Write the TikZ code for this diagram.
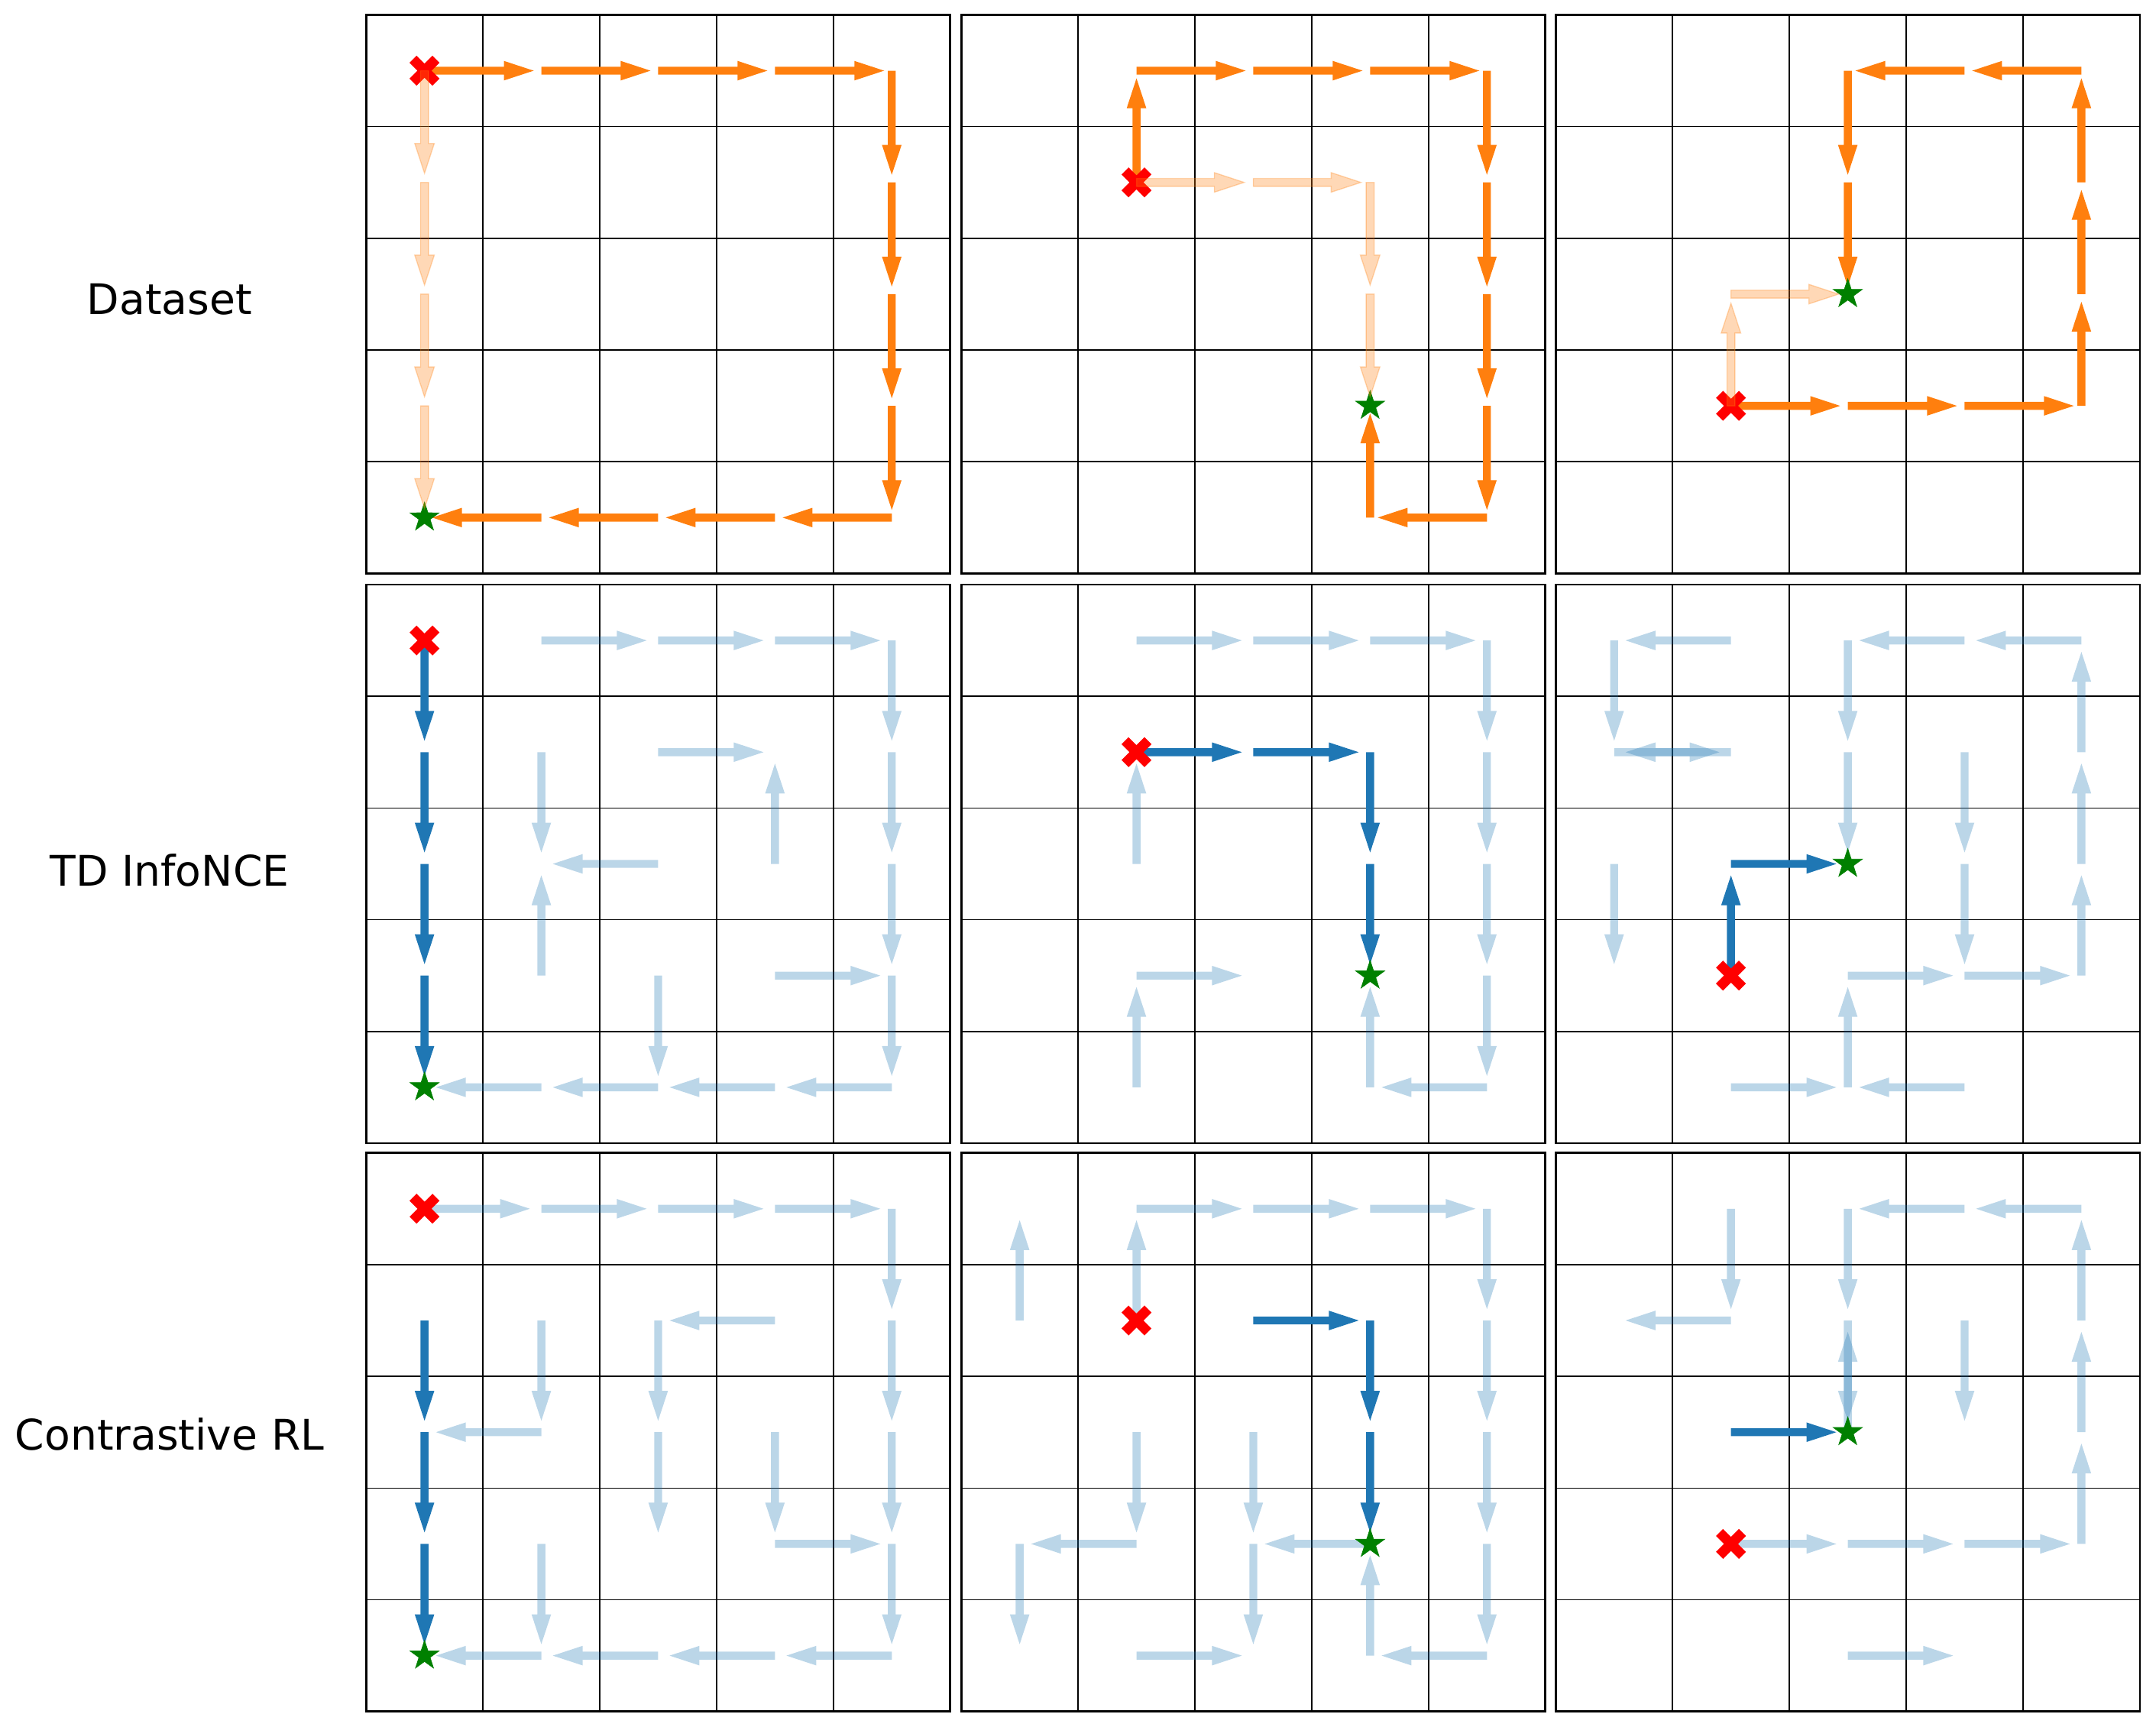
\documentclass[tikz,border=0pt]{standalone}
\usepackage{fontspec}
\setmainfont{DejaVu Sans}
\usetikzlibrary{shapes.geometric, shapes.misc}

\definecolor{tabblue}{HTML}{1F77B4}
\definecolor{taborange}{HTML}{FF7F0E}
\definecolor{goalgreen}{HTML}{008000}

% cell size and arrow shape (cm)
\newcommand\cellw{1.529}
\newcommand\cellh{1.462}
\newcommand\shaftw{0.052}
\newcommand\headw{0.128}
\newcommand\headl{0.39}

% one arrow: style, gap before next cell, column, row, angle
\newcommand\qv[5]{%
  \pgfmathsetmacro\qlen{\cellw*abs(cos(#5))+\cellh*abs(sin(#5))-#2}%
  \fill[#1, shift={({(#3+.5)*\cellw},{-(#4+.5)*\cellh})}, rotate=#5]
    (0,-\shaftw) -- ({\qlen-\headl},-\shaftw) -- ({\qlen-\headl},-\headw) -- (\qlen,0)
    -- ({\qlen-\headl},\headw) -- ({\qlen-\headl},\shaftw) -- (0,\shaftw) -- cycle;}
\newcommand\trail[3]{\foreach \cx/\cy/\ang in {#3} {\qv{#1}{#2}{\cx}{\cy}{\ang}}}
% 5x5 board of one panel
\newcommand\board{%
  \foreach \k in {1,...,4}
    \draw[gridline] ({\k*\cellw},0) -- ({\k*\cellw},{-5*\cellh})
                    (0,{-\k*\cellh}) -- ({5*\cellw},{-\k*\cellh});
  \draw[frameline] (0,0) rectangle ({5*\cellw},{-5*\cellh});}

\begin{document}
\begin{tikzpicture}[
    gridline/.style={line width=.45pt},
    frameline/.style={line width=.75pt},
    pathdata/.style={fill=taborange},
    pathalt/.style={fill=taborange, draw=taborange, opacity=.3, line width=.014cm},
    pathbest/.style={fill=tabblue},
    pathall/.style={fill=tabblue, opacity=.3},
    startmark/.style={cross out, draw=red, line width=.13cm, minimum size=.30cm, inner sep=0pt, outer sep=0pt},
    goalmark/.style={star, star points=5, star point ratio=2.6, fill=goalgreen, draw=goalgreen,
                     line width=.2pt, minimum size=.40cm, inner sep=0pt},
    rowlabel/.style={font=\fontsize{15.7pt}{19pt}\selectfont, inner sep=0pt}]

    \useasboundingbox (0,0) rectangle (28.22,-22.60);

    % row labels
    \node[rowlabel] (lab-data) at (2.22,-3.92) {Dataset};
    \node[rowlabel] (lab-td) at (2.22,-11.39) {TD InfoNCE};
    \node[rowlabel] (lab-crl) at (2.22,-18.77) {Contrastive RL};

    % Dataset
    \begin{scope}[shift={(4.792,-0.194)}]
        \board
        \trail{pathdata}{.10}{0/0/0, 1/0/0, 2/0/0, 3/0/0, 4/0/270, 4/1/270, 4/2/270, 4/3/270,
                              4/4/180, 3/4/180, 2/4/180, 1/4/180}
        \node[startmark] (s11) at ({.5*\cellw},{-.5*\cellh}) {};
        \node[goalmark] (g11) at ({.5*\cellw},{-4.5*\cellh}) {};
        \trail{pathalt}{.12}{0/0/270, 0/1/270, 0/2/270, 0/3/270}
    \end{scope}
    \begin{scope}[shift={(12.582,-0.194)}]
        \board
        \trail{pathdata}{.10}{1/1/90, 1/0/0, 2/0/0, 3/0/0, 4/0/270, 4/1/270, 4/2/270, 4/3/270,
                              4/4/180, 3/4/90}
        \node[startmark] (s12) at ({1.5*\cellw},{-1.5*\cellh}) {};
        \node[goalmark] (g12) at ({3.5*\cellw},{-3.5*\cellh}) {};
        \trail{pathalt}{.12}{1/1/0, 2/1/0, 3/1/270, 3/2/270}
    \end{scope}
    \begin{scope}[shift={(20.363,-0.194)}]
        \board
        \trail{pathdata}{.10}{1/3/0, 2/3/0, 3/3/0, 4/3/90, 4/2/90, 4/1/90, 4/0/180, 3/0/180,
                              2/0/270, 2/1/270}
        \node[startmark] (s13) at ({1.5*\cellw},{-3.5*\cellh}) {};
        \node[goalmark] (g13) at ({2.5*\cellw},{-2.5*\cellh}) {};
        \trail{pathalt}{.12}{1/3/90, 1/2/0}
    \end{scope}

    % TD InfoNCE
    \begin{scope}[shift={(4.792,-7.650)}]
        \board
        \trail{pathall}{.15}{1/0/0, 2/0/0, 3/0/0, 4/0/270, 4/1/270, 4/2/270, 4/3/270,
                             4/4/180, 3/4/180, 2/4/180, 1/4/180, 2/1/0, 3/2/90, 1/1/270,
                             2/2/180, 1/3/90, 2/3/270, 3/3/0}
        \trail{pathbest}{.15}{0/0/270, 0/1/270, 0/2/270, 0/3/270}
        \node[startmark] (s21) at ({.5*\cellw},{-.5*\cellh}) {};
        \node[goalmark] (g21) at ({.5*\cellw},{-4.5*\cellh}) {};
    \end{scope}
    \begin{scope}[shift={(12.582,-7.650)}]
        \board
        \trail{pathall}{.15}{1/0/0, 2/0/0, 3/0/0, 4/0/270, 4/1/270, 4/2/270, 4/3/270,
                             4/4/180, 3/4/90, 1/2/90, 1/3/0, 1/4/90}
        \trail{pathbest}{.15}{1/1/0, 2/1/0, 3/1/270, 3/2/270}
        \node[startmark] (s22) at ({1.5*\cellw},{-1.5*\cellh}) {};
        \node[goalmark] (g22) at ({3.5*\cellw},{-3.5*\cellh}) {};
    \end{scope}
    \begin{scope}[shift={(20.363,-7.650)}]
        \board
        \trail{pathall}{.15}{1/0/180, 0/0/270, 0/1/0, 1/1/180, 2/0/270, 2/1/270, 4/0/180,
                             3/0/180, 4/1/90, 4/2/90, 4/3/90, 3/1/270, 3/2/270, 0/2/270,
                             2/3/0, 3/3/0, 2/4/90, 1/4/0, 3/4/180}
        \trail{pathbest}{.15}{1/3/90, 1/2/0}
        \node[startmark] (s23) at ({1.5*\cellw},{-3.5*\cellh}) {};
        \node[goalmark] (g23) at ({2.5*\cellw},{-2.5*\cellh}) {};
    \end{scope}

    % Contrastive RL
    \begin{scope}[shift={(4.792,-15.087)}]
        \board
        \trail{pathall}{.15}{0/0/0, 1/0/0, 2/0/0, 3/0/0, 4/0/270, 4/1/270, 4/2/270, 4/3/270,
                             4/4/180, 3/4/180, 2/4/180, 1/4/180, 1/1/270, 1/2/180, 3/1/180,
                             2/1/270, 2/2/270, 3/2/270, 3/3/0, 1/3/270}
        \trail{pathbest}{.15}{0/1/270, 0/2/270, 0/3/270}
        \node[startmark] (s31) at ({.5*\cellw},{-.5*\cellh}) {};
        \node[goalmark] (g31) at ({.5*\cellw},{-4.5*\cellh}) {};
    \end{scope}
    \begin{scope}[shift={(12.582,-15.087)}]
        \board
        \trail{pathall}{.15}{0/1/90, 1/1/90, 1/0/0, 2/0/0, 3/0/0, 4/0/270, 4/1/270, 4/2/270,
                             4/3/270, 4/4/180, 3/4/90, 1/2/270, 1/3/180, 0/3/270, 2/2/270,
                             2/3/270, 3/3/180, 1/4/0}
        \trail{pathbest}{.15}{2/1/0, 3/1/270, 3/2/270}
        \node[startmark] (s32) at ({1.5*\cellw},{-1.5*\cellh}) {};
        \node[goalmark] (g32) at ({3.5*\cellw},{-3.5*\cellh}) {};
    \end{scope}
    \begin{scope}[shift={(20.363,-15.087)}]
        \board
        \trail{pathall}{.15}{1/0/270, 1/1/180, 2/0/270, 2/1/270, 2/2/90, 4/0/180, 3/0/180,
                             4/1/90, 4/2/90, 4/3/90, 3/1/270, 1/3/0, 2/3/0, 3/3/0, 2/4/0}
        \trail{pathbest}{.15}{1/2/0}
        \node[startmark] (s33) at ({1.5*\cellw},{-3.5*\cellh}) {};
        \node[goalmark] (g33) at ({2.5*\cellw},{-2.5*\cellh}) {};
    \end{scope}
\end{tikzpicture}
\end{document}
